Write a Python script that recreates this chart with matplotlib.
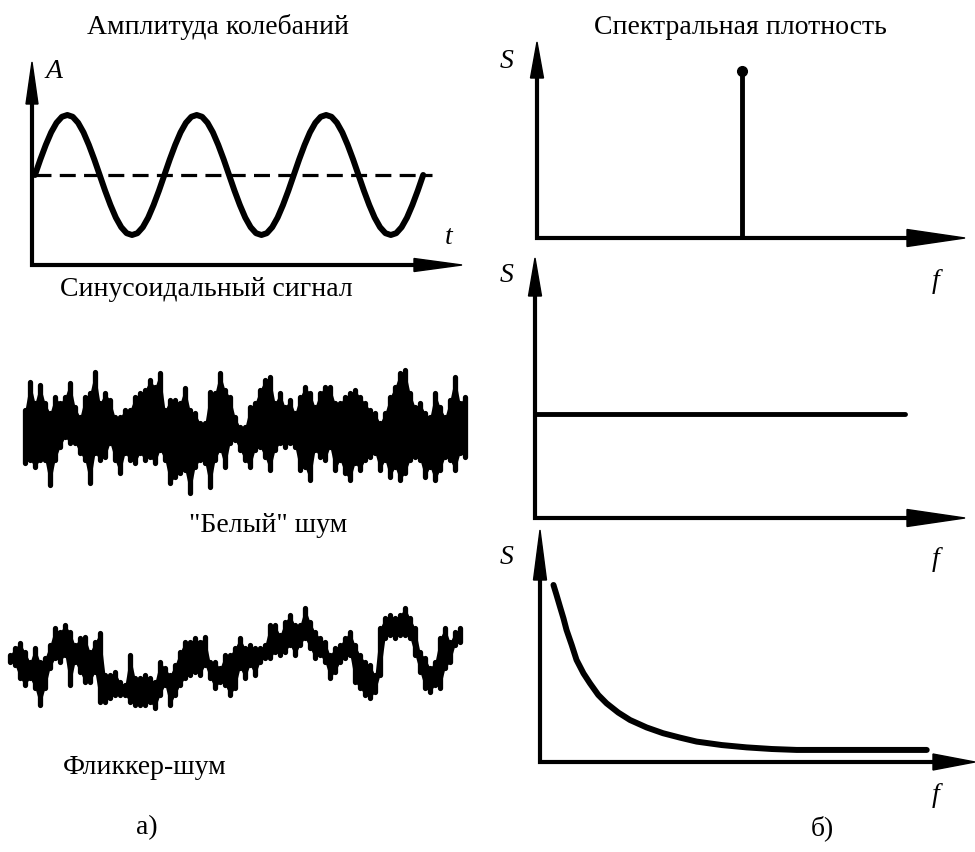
import matplotlib
matplotlib.use('Agg')
import matplotlib.pyplot as plt
from matplotlib.patches import Polygon
import numpy as np

W, H = 975, 852
SERIF = 'Liberation Serif'

# one cycle of the sine signal, sampled every 15 degrees
sine_cycle = [0.0, 0.26, 0.5, 0.71, 0.87, 0.97, 1.0, 0.97, 0.87, 0.71, 0.5, 0.26,
              0.0, -0.26, -0.5, -0.71, -0.87, -0.97, -1.0, -0.97, -0.87, -0.71, -0.5, -0.26]
sine_periods = 3
mean_level = 0.0
mean_end = 3.07

# white noise: upper / lower excursion for each sample
white_hi = [18, 46, 25, 43, 25, 15, 31, 25, 31, 45, 21, 11, 31, 35, 56, 25, 35, 28, 11, 11,
            18, 18, 31, 35, 38, 48, 41, 55, 18,
            28, 28, 25, 40, 18, 15, 5, 5, 36, 35, 55, 38, 31, 11, 1, 1, 21, 25, 38, 48,
            51, 25, 35, 21, 28, 15, 31, 41, 35, 21,
            35, 41, 41, 25, 25, 31, 35, 38, 31, 25, 18, 15, 5, 15, 31, 41, 55, 58, 35, 21,
            25, 15, 11, 35, 21, 11, 28, 51, 25, 31]
white_lo = [-35, -32, -39, -32, -32, -57, -32, -19, -9, -15, -15, -25, -32, -55, -25, -32, -29, -15, -32, -45,
            -25, -32, -35, -25, -32, -29, -35, -22, -32,
            -55, -49, -45, -42, -65, -39, -32, -35, -59, -32, -22, -39, -15, -12, -22, -32, -39, -22, -19, -29,
            -42, -22, -15, -19, -15, -19, -42, -39, -52, -22,
            -29, -32, -19, -42, -32, -45, -52, -35, -42, -32, -29, -25, -42, -32, -49, -39, -52, -45, -32, -29,
            -32, -49, -39, -52, -42, -29, -32, -42, -25, -29]

# flicker noise: upper / lower excursion for each sample
flicker_hi = [5, 12, 17, 8, -2, 12, -2, 2, 15, 32, 28, 35, 28, 15, 22, 23, 8, 18, 27, -15,
              -15, -12, -22, -25, 5, -18, -18, -15, -18, -22,
              -2, -8, -15, -5, 8, 18, 18, 22, 18, 23, -2, -2, -8, 5, 5, 12, 22, 12, 15, 12,
              12, 15, 35, 35, 25, 38, 45, 35, 35, 52, 38,
              28, 22, 18, 5, 12, 15, 22, 28, 15, 5, -2, -5, -15, 32, 42, 45, 42, 45, 52, 42,
              32, 8, 2, -8, -2, 22, 32, 18, 28, 32]
flicker_lo = [-2, -5, -18, -25, -18, -28, -45, -28, -8, 2, -2, 5, -25, -2, -12, -22, -22, -12, -42, -42,
              -38, -35, -35, -35, -42, -45, -45, -45, -42, -48,
              -35, -25, -45, -35, -25, -18, -15, -12, -15, -5, -18, -28, -22, -25, -35, -28, -8, -18, -5, -15,
              -2, 2, 2, 8, 5, 8, 15, 5, 15, 22, 12,
              2, 5, -2, -18, -12, -2, 2, 5, -22, -28, -35, -38, -32, -15, 22, 25, 22, 25, 25, 22,
              5, -12, -28, -32, -25, -28, -8, -2, 15, 18]

# spectra
spike_f = 4.8
spike_s = 8.5
white_level = 4.0
white_f_end = 8.6
flicker_f = [0.31, 0.38, 0.46, 0.54, 0.61, 0.73, 0.84, 1.00, 1.15, 1.34, 1.53, 1.80,
             2.07, 2.45, 2.83, 3.22, 3.60, 4.18, 4.75, 5.33, 5.90, 7.05, 8.89]
flicker_s = [7.63, 7.20, 6.69, 6.19, 5.69, 5.04, 4.40, 3.82, 3.39, 2.89, 2.53, 2.13,
             1.81, 1.49, 1.24, 1.05, 0.88, 0.73, 0.63, 0.56, 0.52, 0.52, 0.52]

fig = plt.figure(figsize=(W / 100, H / 100), dpi=100)


def box(x0, y0, x1, y1):
    ax = fig.add_axes([x0 / W, 1 - y1 / H, (x1 - x0) / W, (y1 - y0) / H])
    ax.set_axis_off()
    ax.px = (x1 - x0, y1 - y0)
    return ax


def arrows(ax, head_x, head_y, lw=3):
    # axis lines with long narrow filled heads, sizes in pixels
    w, h = ax.px
    lx, wx = head_x
    ly, wy = head_y
    kw = dict(transform=ax.transAxes, clip_on=False)
    ax.plot([1 - lx / w, 0, 0], [0, 0, 1 - ly / h], color='k', lw=lw,
            solid_joinstyle='miter', solid_capstyle='butt', **kw)
    ax.add_patch(Polygon([(1, 0), (1 - lx / w, wx / h), (1 - lx / w, -wx / h)],
                         closed=True, color='k', **kw))
    ax.add_patch(Polygon([(0, 1), (wy / w, 1 - ly / h), (-wy / w, 1 - ly / h)],
                         closed=True, color='k', **kw))


def noise(ax, hi, lo):
    # rounded vertical strokes for each sample over a filled core
    idx = np.arange(len(hi))
    ax.fill_between(idx, lo, hi, color='k', lw=0)
    ax.vlines(idx, lo, hi, color='k', lw=3.8, capstyle='round')


def label(x, y, s, size=20, italic=False):
    fig.text(x / W, 1 - y / H, s, ha='center', va='center', fontsize=size,
             family=SERIF, style='italic' if italic else 'normal')


# sine signal
ax = box(32, 62, 462, 265)
t = np.arange(len(sine_cycle) * sine_periods + 1) / len(sine_cycle)
a = np.array(sine_cycle * sine_periods + [sine_cycle[0]])
ax.plot(t, a, color='k', lw=4.3, solid_capstyle='round', clip_on=False)
ax.plot([0, mean_end], [mean_level, mean_level], color='k', lw=2.3,
        dashes=(5, 2.6), clip_on=False)
ax.set_xlim(-0.023, 3.30)
ax.set_ylim(-1.5, 1.883)
arrows(ax, head_x=(48, 6.5), head_y=(42, 6))

# white noise
ax = box(20, 360, 470, 500)
noise(ax, white_hi, white_lo)
ax.set_xlim(-1, 89)
ax.set_ylim(-72, 68)

# flicker noise
ax = box(5, 590, 470, 720)
noise(ax, flicker_hi, flicker_lo)
ax.set_xlim(-1, 92)
ax.set_ylim(-60, 70)

# line spectrum
ax = box(537, 42, 965, 238)
ax.plot([spike_f, spike_f], [0, spike_s], color='k', lw=3.5)
ax.plot([spike_f], [spike_s], 'o', color='k', ms=7)
ax.set_xlim(0, 10)
ax.set_ylim(0, 10)
arrows(ax, head_x=(58, 8.5), head_y=(36, 6.5))

# flat spectrum
ax = box(535, 258, 965, 518)
ax.plot([0, white_f_end], [white_level, white_level], color='k', lw=3.5,
        solid_capstyle='round')
ax.set_xlim(0, 10)
ax.set_ylim(0, 10)
arrows(ax, head_x=(58, 8.5), head_y=(38, 6.5))

# 1/f spectrum
ax = box(540, 530, 975, 762)
ax.plot(flicker_f, flicker_s, color='k', lw=4.3, solid_capstyle='round',
        solid_joinstyle='round')
ax.set_xlim(0, 10)
ax.set_ylim(0, 10)
arrows(ax, head_x=(42, 8), head_y=(50, 6.5))

label(218, 27, 'Амплитуда колебаний')
label(740, 27, 'Спектральная плотность')
label(206, 290, 'Синусоидальный сигнал')
label(268, 525, '"Белый" шум')
label(145, 768, 'Фликкер-шум')
label(147, 828, 'а)')
label(822, 828, 'б)')
label(54, 72, 'A', italic=True)
label(449, 237, 't', italic=True)
for sy in (62, 275, 557):
    label(507, sy, 'S', italic=True)
for fy in (282, 559, 795):
    label(936, fy, 'f', italic=True)

fig.savefig('out.png', dpi=100, facecolor='white')
